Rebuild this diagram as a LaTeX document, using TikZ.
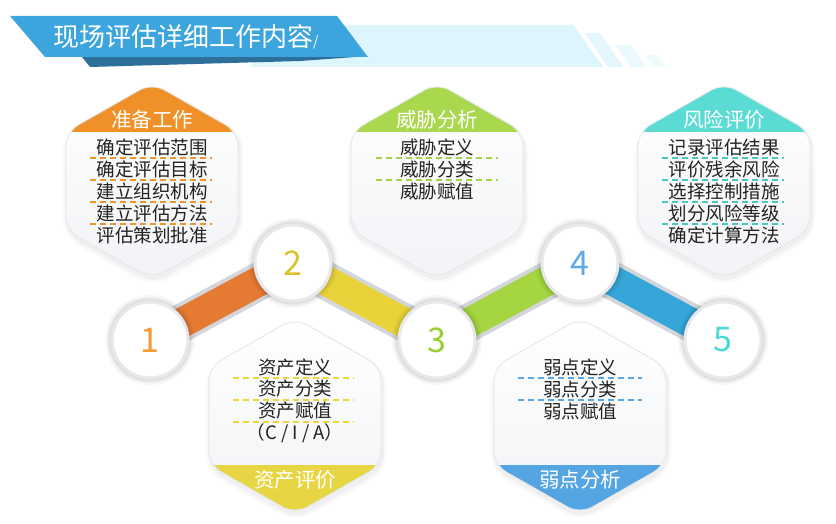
\documentclass[tikz,border=0pt]{standalone}
\usepackage{fontspec}
\setmainfont{Noto Sans CJK SC}
\usetikzlibrary{calc}
\definecolor{capA}{HTML}{EF9128}
\definecolor{capB}{HTML}{A9D84E}
\definecolor{capC}{HTML}{5ADBD3}
\definecolor{capD}{HTML}{E8D544}
\definecolor{capE}{HTML}{55A5E3}
\definecolor{dashA}{HTML}{EE9530}
\definecolor{dashB}{HTML}{A3D444}
\definecolor{dashC}{HTML}{45C9C1}
\definecolor{dashD}{HTML}{EDD63A}
\definecolor{dashE}{HTML}{59A7E2}
\definecolor{barA}{HTML}{E57A33}
\definecolor{barB}{HTML}{E9D33A}
\definecolor{barC}{HTML}{A5D641}
\definecolor{barD}{HTML}{36A6D8}
\definecolor{barEdge}{HTML}{D3D6DC}
\definecolor{numA}{HTML}{F39A32}
\definecolor{numB}{HTML}{D6C42C}
\definecolor{numC}{HTML}{9ACD36}
\definecolor{numD}{HTML}{5EA9E6}
\definecolor{numE}{HTML}{4DD8D6}
\definecolor{ringgray}{HTML}{E6E8EC}
\definecolor{hexedge}{HTML}{E4E7EB}
\definecolor{hexlow}{HTML}{F1F3F6}
\definecolor{itemtext}{HTML}{222222}
\definecolor{bannerblue}{HTML}{3DA5DE}
\definecolor{bannerdark}{HTML}{2C6F9A}
\definecolor{bandlight}{HTML}{DDF5FC}
\definecolor{stripeA}{HTML}{E3F7FC}
\definecolor{stripeB}{HTML}{EAF9FD}
\definecolor{stripeC}{HTML}{F0FBFE}
\newcommand{\myhexpath}{(86,0) -- (86,49) -- (0,98) -- (-86,49) -- (-86,-49) -- (0,-98) -- (86,-49) -- cycle}
\newcommand{\hexcard}[5]{%
  \begin{scope}[shift={(#1,#2)}]
    \fill[black, opacity=0.025, rounded corners=18, shift={(1,4)}, scale=1.05] \myhexpath;
    \fill[black, opacity=0.035, rounded corners=16, shift={(1,3)}, scale=1.025] \myhexpath;
    \shade[rounded corners=14, top color=white, bottom color=hexlow] \myhexpath;
    \begin{scope}
      \clip[rounded corners=14] \myhexpath;
      \fill[#3] (-110,#4) rectangle (110,#5);
    \end{scope}
    \draw[hexedge, line width=0.8, rounded corners=14] \myhexpath;
  \end{scope}}
\tikzset{
  hexitem/.style={font=\fontsize{18.5}{20}\selectfont, text=itemtext, inner sep=0pt, anchor=center},
  hexhead/.style={font=\fontsize{20.5}{22}\selectfont, text=white, inner sep=0pt, anchor=center},
  sepline/.style={dash pattern=on 6pt off 4pt, line width=1.4pt},
  numdisc/.style={circle, fill=white, draw=ringgray, line width=3pt, minimum size=76pt, inner sep=0pt, font=\fontsize{34}{34}\selectfont},
  barback/.style={line width=38pt, draw=barEdge},
  barfront/.style={line width=30pt},
}
\begin{document}
\begin{tikzpicture}[x=1pt, y=-1pt]
\useasboundingbox (0,0) rectangle (836,524);
\fill[white] (0,0) rectangle (836,524);
% title banner
\fill[bandlight] (300,25) -- (573,25) -- (603,67) -- (250,67) -- cycle;
\fill[stripeA] (585,33) -- (600,33) -- (623,67) -- (608,67) -- cycle;
\fill[stripeB] (615,45) -- (630,45) -- (646,67) -- (631,67) -- cycle;
\fill[stripeC] (645,55) -- (657,55) -- (666,67) -- (654,67) -- cycle;
\fill[bannerdark] (82,57) -- (355,57) -- (300,61) -- (90,67) -- cycle;
\fill[bannerblue] (10,16) -- (337,16) -- (368,57) -- (45,57) -- cycle;
\node[anchor=west, text=white, inner sep=0pt, font=\fontsize{26}{28}\selectfont] (title) at (53,37) {现场评估详细工作内容{\fontsize{14}{14}\selectfont /}};
% hexagon cards
\hexcard{152}{181}{capA}{-110}{-49}
\hexcard{437}{181}{capB}{-110}{-49}
\hexcard{724}{181}{capC}{-110}{-49}
\hexcard{295}{416}{capD}{49}{110}
\hexcard{580}{416}{capE}{49}{110}
% card 1
\begin{scope}[shift={(152,181)}]
  \node[hexhead] (h1) at (0,-61) {准备工作};
  \node[hexitem] (h1a) at (0,-34) {确定评估范围};
  \node[hexitem] (h1b) at (0,-12) {确定评估目标};
  \node[hexitem] (h1c) at (0,10) {建立组织机构};
  \node[hexitem] (h1d) at (0,32) {建立评估方法};
  \node[hexitem] (h1e) at (0,54) {评估策划批准};
  \foreach \yy in {-23,-1,21,43} \draw[sepline, dashA] (-62,\yy) -- (60,\yy);
\end{scope}
% card 3
\begin{scope}[shift={(437,181)}]
  \node[hexhead] (h3) at (0,-61) {威胁分析};
  \node[hexitem] (h3a) at (0,-34) {威胁定义};
  \node[hexitem] (h3b) at (0,-12) {威胁分类};
  \node[hexitem] (h3c) at (0,10) {威胁赋值};
  \foreach \yy in {-23,-1} \draw[sepline, dashB] (-61,\yy) -- (61,\yy);
\end{scope}
% card 5
\begin{scope}[shift={(724,181)}]
  \node[hexhead] (h5) at (0,-61) {风险评价};
  \node[hexitem] (h5a) at (0,-34) {记录评估结果};
  \node[hexitem] (h5b) at (0,-12) {评价残余风险};
  \node[hexitem] (h5c) at (0,10) {选择控制措施};
  \node[hexitem] (h5d) at (0,32) {划分风险等级};
  \node[hexitem] (h5e) at (0,54) {确定计算方法};
  \foreach \yy in {-23,-1,21,43} \draw[sepline, dashC] (-62,\yy) -- (60,\yy);
\end{scope}
% card 2
\begin{scope}[shift={(295,416)}]
  \node[hexhead] (h2) at (0,64) {资产评价};
  \node[hexitem] (h2a) at (0,-49) {资产定义};
  \node[hexitem] (h2b) at (0,-27) {资产分类};
  \node[hexitem] (h2c) at (0,-5) {资产赋值};
  \node[hexitem] (h2d) at (0,17) {（C / I / A）};
  \foreach \yy in {-38,-16,6} \draw[sepline, dashD] (-62,\yy) -- (59,\yy);
\end{scope}
% card 4
\begin{scope}[shift={(580,416)}]
  \node[hexhead] (h4) at (0,64) {弱点分析};
  \node[hexitem] (h4a) at (0,-49) {弱点定义};
  \node[hexitem] (h4b) at (0,-27) {弱点分类};
  \node[hexitem] (h4c) at (0,-5) {弱点赋值};
  \foreach \yy in {-38,-16} \draw[sepline, dashE] (-62,\yy) -- (62,\yy);
\end{scope}
% path coordinates
\coordinate (c1) at (150,340);
\coordinate (c2) at (293,263);
\coordinate (c3) at (437,340);
\coordinate (c4) at (580,263);
\coordinate (c5) at (723,340);
% bars
\draw[barback] (c1) -- (c2);
\draw[barback] (c2) -- (c3);
\draw[barback] (c3) -- (c4);
\draw[barback] (c4) -- (c5);
\draw[barfront, barA] (c1) -- (c2);
\draw[barfront, barB] (c2) -- (c3);
\draw[barfront, barC] (c3) -- (c4);
\draw[barfront, barD] (c4) -- (c5);
% disc shadows
\foreach \cc in {c1,c2,c3,c4,c5}{
  \fill[black, opacity=0.03] (\cc) circle (45pt);
  \fill[black, opacity=0.04] (\cc) circle (43pt);
  \fill[black, opacity=0.05] (\cc) circle (41.5pt);
}
% discs
\node[numdisc, text=numA] (n1) at (c1) {1};
\node[numdisc, text=numB] (n2) at (c2) {2};
\node[numdisc, text=numC] (n3) at (c3) {3};
\node[numdisc, text=numD] (n4) at (c4) {4};
\node[numdisc, text=numE] (n5) at (c5) {5};
\end{tikzpicture}
\end{document}
